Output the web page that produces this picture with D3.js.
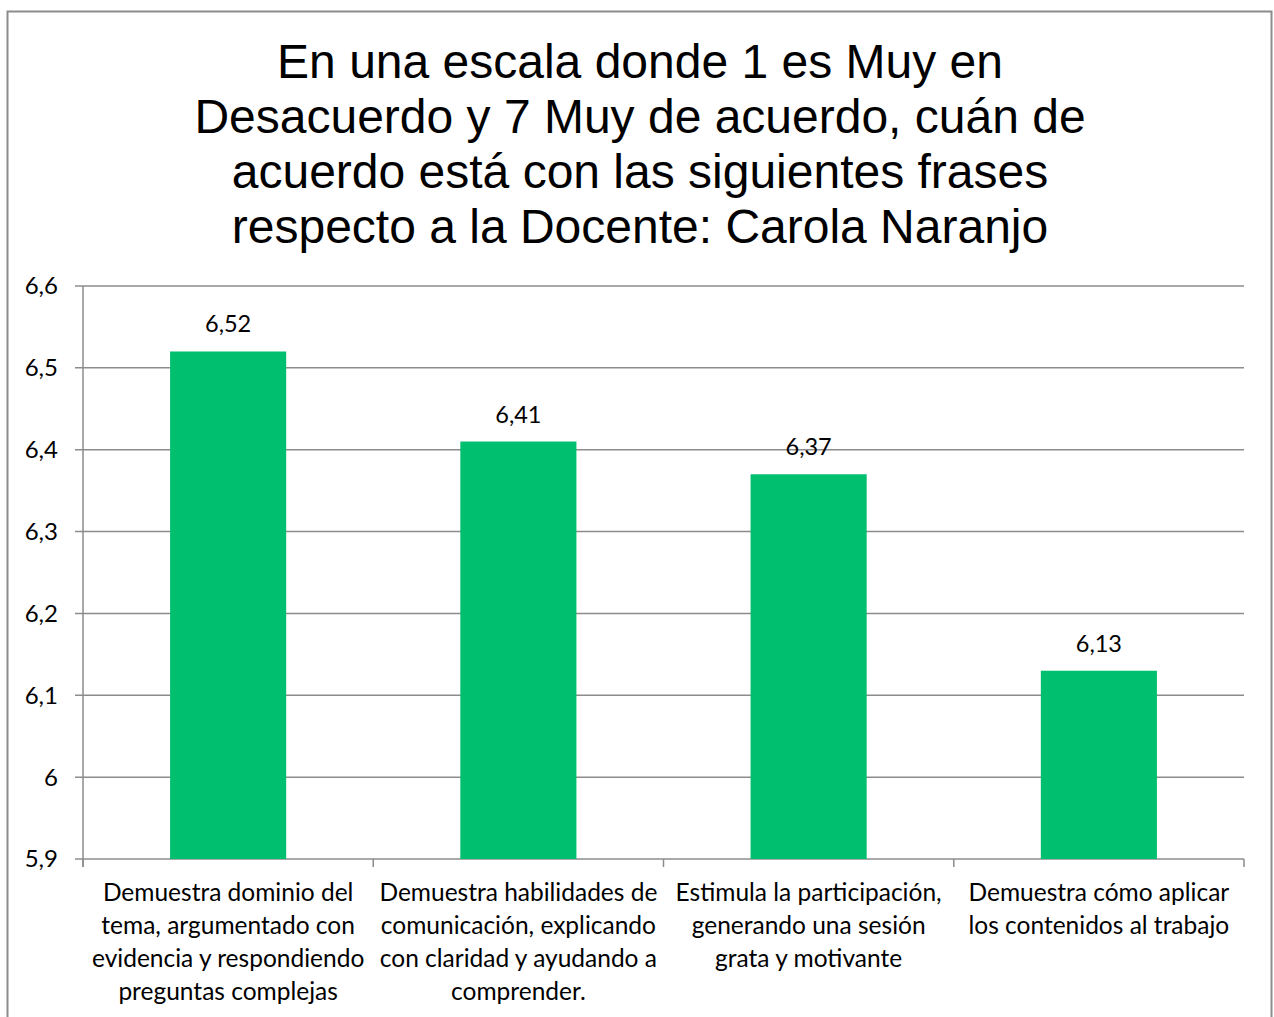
<!DOCTYPE html>
<html><head><meta charset="utf-8">
<script src="https://cdn.jsdelivr.net/npm/d3@7"></script>
<style>body{margin:0;background:#fff}</style>
</head><body>
<svg id="c" width="1274" height="1017"></svg>
<script>
const titleLines = ["En una escala donde 1 es Muy en","Desacuerdo y 7 Muy de acuerdo, cuán de","acuerdo está con las siguientes frases","respecto a la Docente: Carola Naranjo"];
const categories = [
  ["Demuestra dominio del","tema, argumentado con","evidencia y respondiendo","preguntas complejas"],
  ["Demuestra habilidades de","comunicación, explicando","con claridad y ayudando a","comprender."],
  ["Estimula la participación,","generando una sesión","grata y motivante"],
  ["Demuestra cómo aplicar","los contenidos al trabajo"]
];
const values = [6.52, 6.41, 6.37, 6.13];
const yTicks = [5.9, 6.0, 6.1, 6.2, 6.3, 6.4, 6.5, 6.6];
const yTickLabels = ["5,9","6","6,1","6,2","6,3","6,4","6,5","6,6"];

(function(){
const svg = d3.select("#c");
const pL = 83, pR = 1244, pT = 286, pB = 859;
const grid = "#8c8c8c", green = "#00BF6F";
const labFont = "Lato, 'Open Sans', sans-serif";

svg.append("rect").attr("x",7.5).attr("y",11.5).attr("width",1264).attr("height",1010)
  .attr("fill","#fff").attr("stroke","#8c8c8c").attr("stroke-width",2);

const t = svg.append("text").attr("text-anchor","middle")
  .attr("font-family","'Liberation Sans', Arial, sans-serif").attr("font-size",48).attr("fill","#000");
titleLines.forEach((l,i)=>t.append("tspan").attr("x",640).attr("y",78+i*55).text(l));

const x = d3.scaleBand().domain(d3.range(categories.length)).range([pL,pR]).paddingInner(0).paddingOuter(0);
const y = d3.scaleLinear().domain([5.9,6.6]).range([pB,pT]);

svg.append("g").selectAll("line").data(yTicks).join("line")
  .attr("x1",pL-8).attr("x2",pR).attr("y1",d=>y(d)).attr("y2",d=>y(d))
  .attr("stroke",grid).attr("stroke-width",1.5);

svg.append("line").attr("x1",pL).attr("x2",pL).attr("y1",pT).attr("y2",pB+8).attr("stroke",grid).attr("stroke-width",1.5);
const bounds = d3.range(categories.length+1).map(i=> i<categories.length ? x(i) : pR);
svg.append("g").selectAll("line").data(bounds).join("line")
  .attr("x1",d=>d).attr("x2",d=>d).attr("y1",pB).attr("y2",pB+8)
  .attr("stroke",grid).attr("stroke-width",1.5);

svg.append("g").selectAll("text").data(yTicks).join("text")
  .attr("x",58).attr("y",d=>y(d)).attr("dy","0.35em").attr("text-anchor","end")
  .attr("font-family",labFont).attr("font-size",24).attr("fill","#000")
  .text((d,i)=>yTickLabels[i]);

const bw = x.bandwidth()*0.4;
svg.append("g").selectAll("rect").data(values).join("rect")
  .attr("x",(d,i)=>x(i)+x.bandwidth()/2-bw/2).attr("width",bw)
  .attr("y",d=>y(d)).attr("height",d=>pB-y(d)).attr("fill",green);

svg.append("g").selectAll("text").data(values).join("text")
  .attr("x",(d,i)=>x(i)+x.bandwidth()/2).attr("y",d=>y(d)-19)
  .attr("text-anchor","middle").attr("font-family",labFont).attr("font-size",23.5).attr("fill","#000")
  .text(d=>d.toFixed(2).replace(".",","));

categories.forEach((lines,i)=>{
  const tx = svg.append("text").attr("text-anchor","middle").attr("font-family",labFont).attr("font-size",24.5).attr("fill","#000");
  lines.forEach((l,j)=>tx.append("tspan").attr("x",x(i)+x.bandwidth()/2).attr("y",901+j*33).text(l));
});
})();
</script>
</body></html>
